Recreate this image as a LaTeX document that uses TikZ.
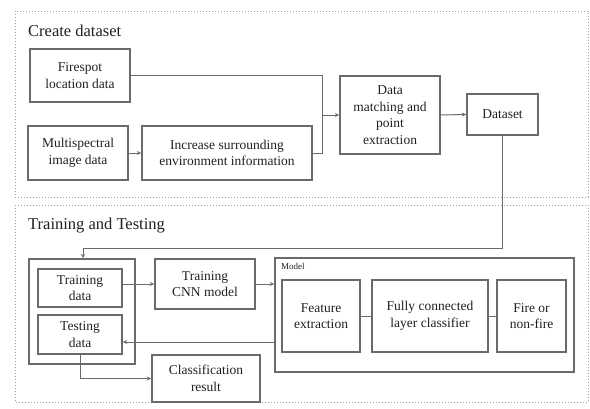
\documentclass[tikz,border=0pt]{standalone}
\usepackage{fontspec}
\setmainfont{Liberation Serif}
\usetikzlibrary{arrows.meta}
\definecolor{boxgray}{HTML}{6A6A6A}
\definecolor{txtgray}{HTML}{202020}
\definecolor{dotgray}{HTML}{A0A0A0}
\tikzset{
  box/.style={draw=boxgray, line width=1.4pt, inner sep=0pt, align=center, text=txtgray,
    font=\fontsize{13.5}{16.5}\selectfont},
  group/.style={draw=dotgray, line width=1pt, dotted},
  title/.style={text=txtgray, font=\fontsize{16.5}{19}\selectfont, inner sep=0pt, anchor=west},
  conn/.style={draw=boxgray, line width=1pt},
  arr/.style={conn, -{Stealth[length=4.5pt,width=4pt]}},
}
\begin{document}
\begin{tikzpicture}[x=1pt,y=-1pt]
\useasboundingbox (0,0) rectangle (590,408);
% groups
\draw[group] (15,11) rectangle (588,197);
\draw[group] (15,205) rectangle (588,402);
\node[title] (t1) at (28,31) {Create dataset};
\node[title] (t2) at (28,226) {Training and Testing};
% create dataset nodes
\node[box, minimum width=100pt, minimum height=53pt] (fire) at (80,75.5) {Firespot\\location data};
\node[box, minimum width=100pt, minimum height=54pt] (multi) at (78,153) {Multispectral\\image data};
\node[box, minimum width=170pt, minimum height=54pt] (inc) at (227,153) {Increase surrounding\\environment information};
\node[box, minimum width=100pt, minimum height=78pt] (data) at (390,115) {Data\\matching and\\point\\extraction};
\node[box, minimum width=71pt, minimum height=41pt] (dset) at (502.5,114.5) {Dataset};
\coordinate (j) at (322,115);
\draw[conn] (fire.east) -- (fire.east -| j) -- (j);
\draw[conn] (inc.east) -- (inc.east -| j) -- (j);
\draw[arr] (multi) -- (inc);
\draw[arr] (j) -- (data.west);
\draw[arr] (data.east) -- (dset.west);
% training and testing
\node[box, minimum width=106pt, minimum height=105pt] (tt) at (82,311.5) {};
\node[box, minimum width=84pt, minimum height=38pt] (trd) at (80,288) {Training\\data};
\node[box, minimum width=84pt, minimum height=39pt] (ted) at (80,334.5) {Testing\\data};
\node[box, minimum width=100pt, minimum height=50pt] (cnn) at (205,284) {Training\\CNN model};
\node[box, minimum width=299pt, minimum height=114pt] (model) at (424.5,315) {};
\node[text=txtgray, font=\fontsize{9}{10}\selectfont, anchor=north west, inner sep=0pt] (mlabel) at (281,263) {Model};
\node[box, minimum width=78pt, minimum height=72pt] (feat) at (321,316) {Feature\\extraction};
\node[box, minimum width=116pt, minimum height=72pt] (fc) at (430,316) {Fully connected\\layer classifier};
\node[box, minimum width=69pt, minimum height=72pt] (fnf) at (531.5,316) {Fire or\\non-fire};
\node[box, minimum width=108pt, minimum height=47pt] (cls) at (206,378.5) {Classification\\result};
\coordinate (c1) at (83,248);
\coordinate (m1) at (275,342);
\draw[arr] (dset.south) |- (c1) -- (c1 |- tt.north);
\draw[arr] (trd.east |- cnn.west) -- (cnn.west);
\draw[arr] (cnn.east) -- (cnn.east -| model.west);
\draw[conn] (feat) -- (fc);
\draw[conn] (fc) -- (fnf);
\draw[arr] (m1) -- (m1 -| ted.east);
\draw[arr] (ted.south) |- (cls.west);
\end{tikzpicture}
\end{document}
